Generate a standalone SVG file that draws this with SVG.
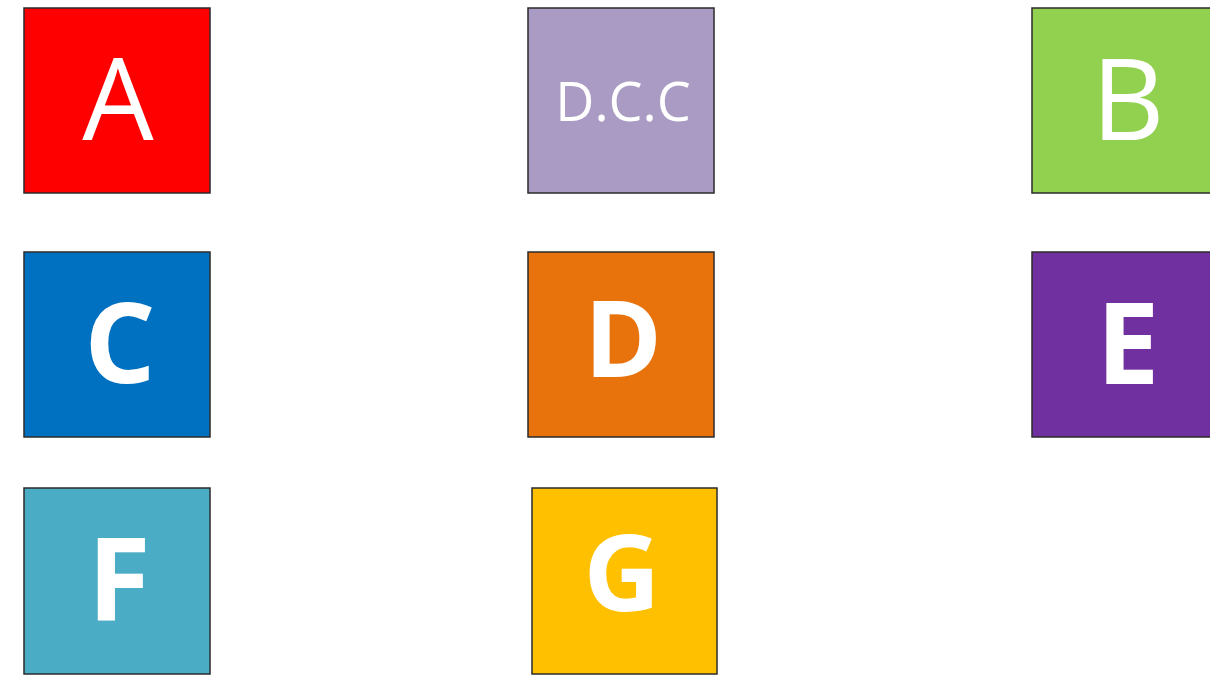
<svg xmlns="http://www.w3.org/2000/svg" width="1210" height="678" viewBox="0 0 1210 678">
<style>
.box{stroke:#2b2b2b;stroke-width:1.5}
.lbl{fill:#ffffff;font-family:"Open Sans","Noto Sans",sans-serif;text-anchor:middle}
.reg{font-weight:400}
.bold{font-weight:700}
</style>
<rect width="1210" height="678" fill="#ffffff"/>
<g id="node-A">
<rect class="box" x="24" y="8" width="186" height="185" fill="#ff0000"/>
<text class="lbl reg" x="118" y="140" font-size="113">A</text>
</g>
<g id="node-DCC">
<rect class="box" x="528" y="8" width="186" height="185" fill="#a99bc3"/>
<text class="lbl reg" x="623" y="121" font-size="54">D.C.C</text>
</g>
<g id="node-B">
<rect class="box" x="1032" y="8" width="186" height="185" fill="#92d050"/>
<text class="lbl reg" x="1128" y="140" font-size="113">B</text>
</g>
<g id="node-C">
<rect class="box" x="24" y="252" width="186" height="185" fill="#0070c0"/>
<text class="lbl bold" x="120" y="383" font-size="112">C</text>
</g>
<g id="node-D">
<rect class="box" x="528" y="252" width="186" height="185" fill="#e8720c"/>
<text class="lbl bold" x="623" y="377" font-size="105">D</text>
</g>
<g id="node-E">
<rect class="box" x="1032" y="252" width="186" height="185" fill="#7030a0"/>
<text class="lbl bold" x="1128" y="384" font-size="113">E</text>
</g>
<g id="node-F">
<rect class="box" x="24" y="488" width="186" height="186" fill="#4bacc6"/>
<text class="lbl bold" x="119" y="620" font-size="115">F</text>
</g>
<g id="node-G">
<rect class="box" x="532" y="488" width="185" height="186" fill="#ffc000"/>
<text class="lbl bold" x="622" y="611" font-size="106">G</text>
</g>
<g id="connectors"></g>
</svg>
